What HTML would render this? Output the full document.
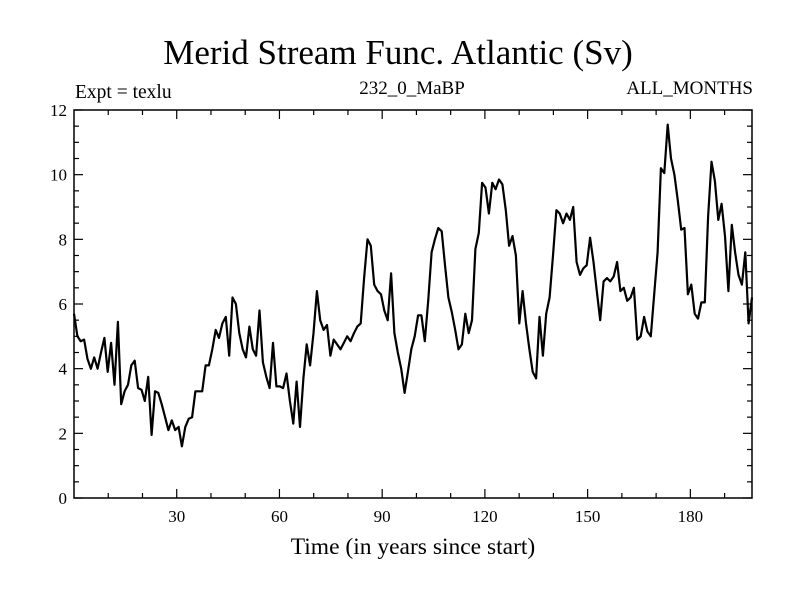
<!DOCTYPE html>
<html><head><meta charset="utf-8"><style>
body{margin:0;background:#fff;}
svg text{font-family:"Liberation Serif",serif;fill:#000;}
</style></head><body>
<svg id="c" width="800" height="600" xmlns="http://www.w3.org/2000/svg">
<text x="398" y="64" font-size="35" text-anchor="middle">Merid Stream Func. Atlantic (Sv)</text>
<text x="75" y="98" font-size="19.5">Expt = texlu</text>
<text x="412" y="94" font-size="19" text-anchor="middle">232_0_MaBP</text>
<text x="753" y="94" font-size="19" text-anchor="end">ALL_MONTHS</text>
<text x="413" y="554" font-size="23.5" text-anchor="middle">Time (in years since start)</text>
<g id="axes"></g>
<path id="line" fill="none" stroke="#000" stroke-width="2.2" stroke-linejoin="round"></path>
<rect x="74" y="110" width="678" height="388" fill="none" stroke="#000" stroke-width="1.5"></rect>
</svg>
<script>
const values=[5.7,5.0,4.85,4.9,4.3,4.0,4.35,4.0,4.5,4.95,3.9,4.8,3.5,5.45,2.9,3.3,3.5,4.1,4.25,3.4,3.35,3.0,3.75,1.95,3.3,3.25,2.9,2.5,2.1,2.4,2.1,2.2,1.6,2.2,2.45,2.5,3.3,3.3,3.3,4.1,4.1,4.6,5.2,4.95,5.4,5.6,4.4,6.2,6.0,5.1,4.6,4.35,5.3,4.6,4.4,5.8,4.2,3.75,3.4,4.8,3.45,3.45,3.4,3.85,3.0,2.3,3.6,2.2,3.7,4.75,4.1,5.1,6.4,5.5,5.2,5.35,4.4,4.9,4.75,4.6,4.8,5.0,4.85,5.1,5.3,5.4,6.8,8.0,7.8,6.6,6.4,6.3,5.8,5.5,6.95,5.1,4.5,4.0,3.25,3.9,4.6,5.0,5.65,5.65,4.85,6.1,7.6,8.0,8.35,8.25,7.2,6.2,5.75,5.2,4.6,4.75,5.7,5.1,5.5,7.7,8.2,9.75,9.6,8.8,9.75,9.55,9.85,9.7,8.9,7.8,8.1,7.5,5.4,6.4,5.4,4.6,3.9,3.7,5.6,4.4,5.7,6.2,7.5,8.9,8.8,8.5,8.8,8.6,9.0,7.3,6.9,7.1,7.2,8.05,7.3,6.4,5.5,6.7,6.8,6.7,6.85,7.3,6.4,6.5,6.1,6.2,6.5,4.9,5.0,5.6,5.15,5.0,6.3,7.6,10.2,10.05,11.55,10.5,10.0,9.2,8.3,8.35,6.3,6.6,5.7,5.55,6.05,6.05,8.7,10.4,9.8,8.6,9.1,8.1,6.4,8.45,7.6,6.9,6.6,7.6,5.4,6.2];
const xTicks=[30,60,90,120,150,180];
const yTicks=[0,2,4,6,8,10,12];
const xMax=198, yMax=12;
const X0=74,X1=752,Y0=498,Y1=110;
const xs=t=>X0+(t/xMax)*(X1-X0);
const ys=v=>Y0-(v/yMax)*(Y0-Y1);
const ns="http://www.w3.org/2000/svg";
const ax=document.getElementById('axes');
function ln(x1,y1,x2,y2,name){const l=document.createElementNS(ns,'line');
l.setAttribute('x1',x1);l.setAttribute('y1',y1);l.setAttribute('x2',x2);l.setAttribute('y2',y2);
l.setAttribute('stroke','#000');l.setAttribute('stroke-width','1.2');


ax.appendChild(l);}
function tx(x,y,s,anchor,name){const t=document.createElementNS(ns,'text');
t.setAttribute('x',x);t.setAttribute('y',y);t.setAttribute('font-size','17');t.setAttribute('text-anchor',anchor);t.textContent=s;


ax.appendChild(t);}
for(let t=10;t<xMax;t+=10){const x=xs(t);const L=(t%30===0)?9:5;
ln(x,Y0,x,Y0-L,'x-tick');ln(x,Y1,x,Y1+L,'x-tick-top');}
xTicks.forEach(t=>tx(xs(t),522,String(t),'middle','x-tick-label'));
for(let v=0;v<=yMax+0.001;v+=0.5){const y=ys(v);const L=(Math.abs(v%2)<0.01)?9:5;
ln(X0,y,X0+L,y,'y-tick');ln(X1,y,X1-L,y,'y-tick-right');}
yTicks.forEach(v=>tx(67,ys(v)+6,String(v),'end','y-tick-label'));
const n=values.length;
let d='';values.forEach((v,i)=>{const t=i*xMax/(n-1);d+=(i?'L':'M')+xs(t).toFixed(1)+','+ys(v).toFixed(1);});
document.getElementById('line').setAttribute('d',d);
</script>
</body></html>
